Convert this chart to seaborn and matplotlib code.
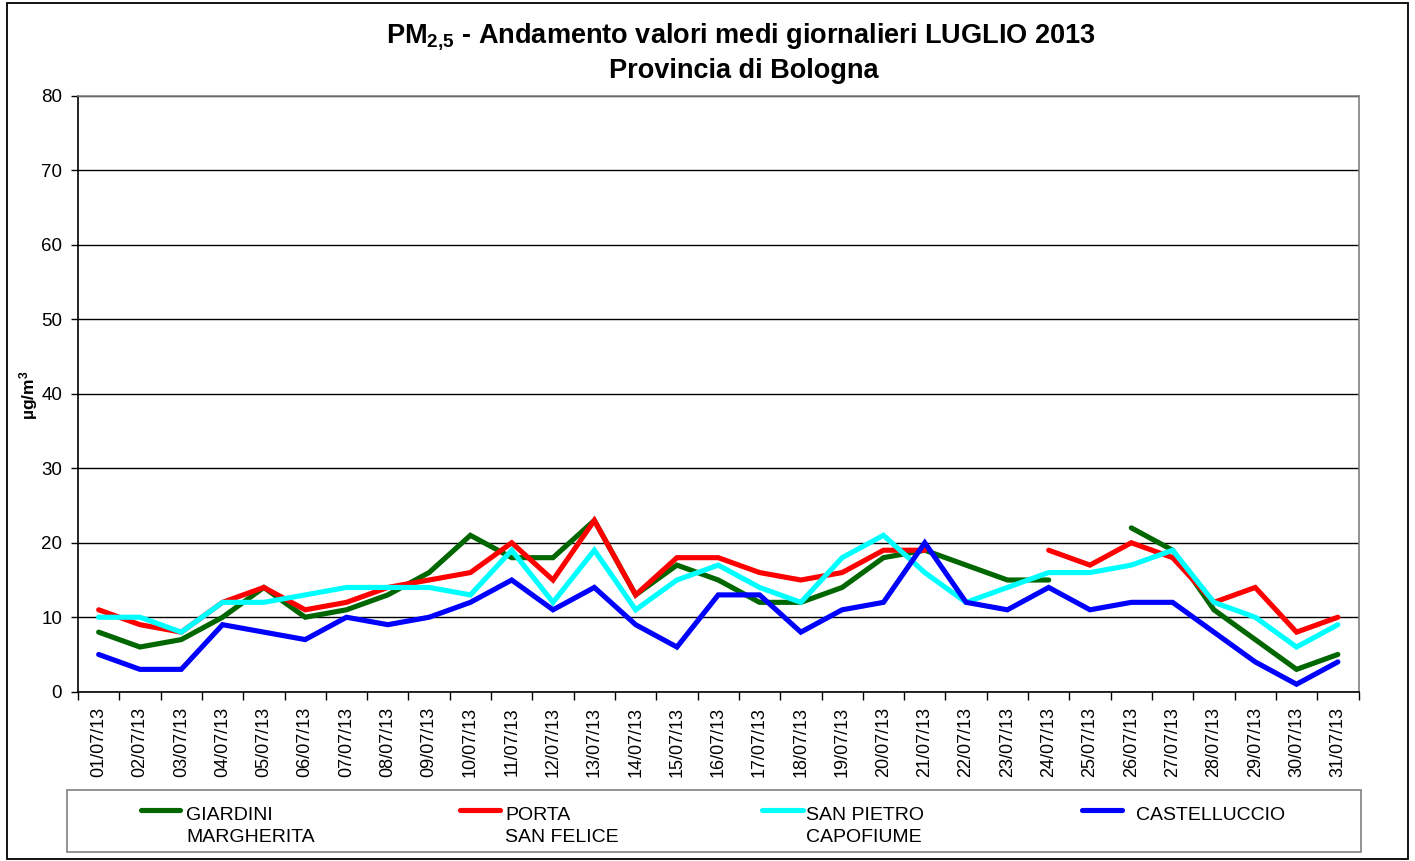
import numpy as np
import pandas as pd
import matplotlib
matplotlib.use("Agg")
import matplotlib.pyplot as plt
import seaborn as sns
from matplotlib.lines import Line2D
from matplotlib.patches import Rectangle

nan = np.nan

dates = ["01/07/13", "02/07/13", "03/07/13", "04/07/13", "05/07/13", "06/07/13",
         "07/07/13", "08/07/13", "09/07/13", "10/07/13", "11/07/13", "12/07/13",
         "13/07/13", "14/07/13", "15/07/13", "16/07/13", "17/07/13", "18/07/13",
         "19/07/13", "20/07/13", "21/07/13", "22/07/13", "23/07/13", "24/07/13",
         "25/07/13", "26/07/13", "27/07/13", "28/07/13", "29/07/13", "30/07/13",
         "31/07/13"]

giardini = [8, 6, 7, 10, 14, 10, 11, 13, 16, 21, 18, 18, 23, 13, 17, 15, 12, 12, 14,
            18, 19, 17, 15, 15, nan, 22, 19, 11, 7, 3, 5]
porta = [11, 9, 8, 12, 14, 11, 12, 14, 15, 16, 20, 15, 23, 13, 18, 18, 16, 15, 16,
         19, 19, nan, nan, 19, 17, 20, 18, 12, 14, 8, 10]
san_pietro = [10, 10, 8, 12, 12, 13, 14, 14, 14, 13, 19, 12, 19, 11, 15, 17, 14, 12, 18,
              21, 16, 12, 14, 16, 16, 17, 19, 12, 10, 6, 9]
castelluccio = [5, 3, 3, 9, 8, 7, 10, 9, 10, 12, 15, 11, 14, 9, 6, 13, 13, 8, 11,
                12, 20, 12, 11, 14, 11, 12, 12, 8, 4, 1, 4]

series_labels = [("GIARDINI", "MARGHERITA"), ("PORTA", "SAN FELICE"),
                 ("SAN PIETRO", "CAPOFIUME"), ("CASTELLUCCIO", "")]
series_values = [giardini, porta, san_pietro, castelluccio]
colors = ["#006600", "#FF0000", "#00FFFF", "#0000FF"]

yticks = [0, 10, 20, 30, 40, 50, 60, 70, 80]

sns.set_theme(style="white")
plt.rcParams["font.family"] = ["Liberation Sans", "DejaVu Sans"]
plt.rcParams["text.color"] = "black"
plt.rcParams["axes.labelcolor"] = "black"
plt.rcParams["xtick.color"] = "black"
plt.rcParams["ytick.color"] = "black"
plt.rcParams["mathtext.fontset"] = "custom"
plt.rcParams["mathtext.rm"] = "Liberation Sans"
plt.rcParams["mathtext.bf"] = "Liberation Sans:bold"
plt.rcParams["mathtext.it"] = "Liberation Sans:italic"

W, H = 1415, 861
fig = plt.figure(figsize=(W / 100, H / 100), dpi=100)
fig.patch.set_facecolor("white")

def fx(px):
    return px / W

def fy(py):
    return 1 - py / H

ax = fig.add_axes([fx(78), fy(691.7), fx(1358.5) - fx(78), fy(96) - fy(691.7)])
ax.set_facecolor("white")

xpos = np.arange(len(dates))
for vals, col in zip(series_values, colors):
    v = np.array(vals, dtype=float)
    ok = ~np.isnan(v)
    # split into contiguous runs so gaps stay gaps
    start = None
    for i in range(len(v) + 1):
        good = i < len(v) and ok[i]
        if good and start is None:
            start = i
        elif not good and start is not None:
            seg = pd.DataFrame({"x": xpos[start:i], "y": v[start:i]})
            sns.lineplot(data=seg, x="x", y="y", ax=ax, color=col, lw=3.7,
                         estimator=None, sort=False, legend=False,
                         solid_capstyle="round", solid_joinstyle="miter", zorder=3)
            start = None

ax.set_xlim(-0.5, len(dates) - 0.5)
ax.set_ylim(0, 80)
ax.set_yticks(yticks)
ax.set_yticklabels([str(t) for t in yticks], fontsize=13.5)
ax.set_xticks(xpos)
ax.set_xticklabels(dates, rotation=90, fontsize=13)
ax.set_xticks(np.arange(-0.5, len(dates), 1.0), minor=True)
ax.tick_params(axis="x", which="major", length=0, pad=11, colors="black")
ax.tick_params(axis="x", which="minor", length=6, width=1, direction="out",
               color="black", bottom=True)
ax.tick_params(axis="y", which="major", length=5, width=1, direction="out",
               left=True, pad=6.5, colors="black")
ax.set_xlabel("")
ax.set_ylabel("")
ax.yaxis.grid(True, color="black", lw=1)
ax.xaxis.grid(False)
ax.set_axisbelow(True)
for s in ["left", "bottom"]:
    ax.spines[s].set_color("black")
    ax.spines[s].set_linewidth(1.2)
for s in ["top", "right"]:
    ax.spines[s].set_color("#808080")
    ax.spines[s].set_linewidth(1.2)

# Title
fig.text(fx(741), fy(42),
         r"PM$_{\mathbf{2{,}5}}$ - Andamento valori medi giornalieri LUGLIO 2013",
         ha="center", va="baseline", fontsize=19.5, fontweight="bold", color="black")
fig.text(fx(744), fy(78), "Provincia di Bologna",
         ha="center", va="baseline", fontsize=19.5, fontweight="bold", color="black")

# Y label
fig.text(fx(29), fy(395), r"µg/m$^{\mathbf{3}}$", rotation=90,
         ha="center", va="center", fontsize=12.5, fontweight="bold", color="black")

# Legend box
fig.add_artist(Rectangle((fx(67), fy(852)), fx(1361) - fx(67), fy(790) - fy(852),
                         transform=fig.transFigure, fill=False,
                         edgecolor="#808080", lw=1.2))
hx = [(141, 180), (460, 500), (762, 803), (1082, 1122)]
tx = [186, 505, 806, 1136]
for (x0, x1), t, col, (l1, l2) in zip(hx, tx, colors, series_labels):
    fig.add_artist(Line2D([fx(x0), fx(x1)], [fy(810), fy(810)],
                          transform=fig.transFigure, color=col, lw=3.7,
                          solid_capstyle="round"))
    fig.text(fx(t), fy(820), l1, ha="left", va="baseline", fontsize=14, color="black")
    if l2:
        fig.text(fx(t), fy(842), l2, ha="left", va="baseline", fontsize=14, color="black")

# Outer border
fig.add_artist(Rectangle((fx(7), fy(859)), fx(1408) - fx(7), fy(3) - fy(859),
                         transform=fig.transFigure, fill=False,
                         edgecolor="black", lw=1.3))

fig.savefig("out.png", dpi=100, facecolor="white")
